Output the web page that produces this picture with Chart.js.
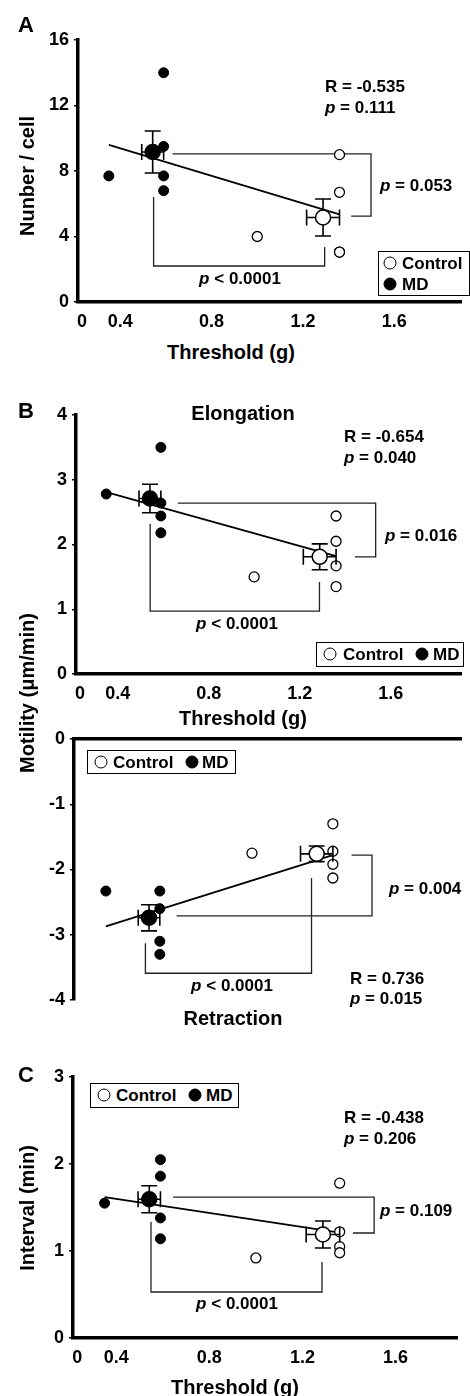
<!DOCTYPE html>
<html>
<head>
<meta charset="utf-8">
<script src="https://cdn.jsdelivr.net/npm/chart.js@4.4.1/dist/chart.umd.min.js"></script>
<style>
body { margin: 0; background: #fff; }
#wrap { position: relative; width: 470px; height: 1396px; overflow: hidden;
  font-family: "Liberation Sans", Arial, sans-serif; font-weight: bold; color: #000; }
canvas { position: absolute; left: 0; }
.t { position: absolute; white-space: nowrap; line-height: 1; font-size: 17px; transform: translateY(-50%); }
.c { transform: translate(-50%, -50%); }
.big { font-size: 20px; }
.v { font-size: 20px; transform: translate(-50%, -50%) rotate(-90deg); }
.let { font-size: 22px; }
.lg { position: absolute; border: 1.5px solid #000; box-sizing: border-box; background: #fff; }
.dot { position: absolute; width: 13px; height: 13px; border-radius: 50%; border: 1.5px solid #000;
  box-sizing: border-box; transform: translate(-50%, -50%); background: #fff; }
.dot.f { background: #000; }
</style>
</head>
<body>
<div id="wrap">
<canvas id="cA" width="470" height="340" style="top:0px"></canvas>
<canvas id="cB1" width="470" height="320" style="top:390px"></canvas>
<canvas id="cB2" width="470" height="300" style="top:720px"></canvas>
<canvas id="cC" width="470" height="346" style="top:1050px"></canvas>

<!-- panel A -->
<div class="t let" style="left:18px;top:25px">A</div>
<div class="t v" style="left:27px;top:176px">Nunber / cell</div>
<div class="t" style="left:325px;top:86px">R = -0.535</div>
<div class="t" style="left:325px;top:107px"><i>p</i> = 0.111</div>
<div class="t" style="left:380px;top:185px"><i>p</i> = 0.053</div>
<div class="t c" style="left:240px;top:278px"><i>p</i> &lt; 0.0001</div>
<div class="lg" style="left:378px;top:251px;width:92px;height:45px"></div>
<div class="dot" style="left:390px;top:263px"></div>
<div class="t" style="left:402px;top:263px">Control</div>
<div class="dot f" style="left:390px;top:284px"></div>
<div class="t" style="left:402px;top:284px">MD</div>
<div class="t c big" style="left:231px;top:352px">Threshold (g)</div>

<!-- panel B elongation -->
<div class="t let" style="left:18px;top:411px">B</div>
<div class="t c big" style="left:243px;top:413px">Elongation</div>
<div class="t" style="left:344px;top:436px">R = -0.654</div>
<div class="t" style="left:344px;top:457px"><i>p</i> = 0.040</div>
<div class="t" style="left:385px;top:535px"><i>p</i> = 0.016</div>
<div class="t c" style="left:237px;top:623px"><i>p</i> &lt; 0.0001</div>
<div class="lg" style="left:316px;top:642px;width:148px;height:25px"></div>
<div class="dot" style="left:330px;top:654px"></div>
<div class="t" style="left:343px;top:654px">Control</div>
<div class="dot f" style="left:422px;top:654px"></div>
<div class="t" style="left:433px;top:654px">MD</div>
<div class="t c big" style="left:243px;top:718px">Threshold (g)</div>
<div class="t v" style="left:27px;top:693px">Motility (μm/min)</div>

<!-- panel B retraction -->
<div class="lg" style="left:87px;top:750px;width:149px;height:24px"></div>
<div class="dot" style="left:101px;top:762px"></div>
<div class="t" style="left:113px;top:762px">Control</div>
<div class="dot f" style="left:192px;top:762px"></div>
<div class="t" style="left:202px;top:762px">MD</div>
<div class="t" style="left:389px;top:888px"><i>p</i> = 0.004</div>
<div class="t c" style="left:232px;top:985px"><i>p</i> &lt; 0.0001</div>
<div class="t" style="left:350px;top:978px">R = 0.736</div>
<div class="t" style="left:350px;top:998px"><i>p</i> = 0.015</div>
<div class="t c big" style="left:233px;top:1018px">Retraction</div>

<!-- panel C -->
<div class="t let" style="left:18px;top:1075px">C</div>
<div class="lg" style="left:90px;top:1083px;width:149px;height:25px"></div>
<div class="dot" style="left:104px;top:1095px"></div>
<div class="t" style="left:116px;top:1095px">Control</div>
<div class="dot f" style="left:195px;top:1095px"></div>
<div class="t" style="left:206px;top:1095px">MD</div>
<div class="t" style="left:344px;top:1117px">R = -0.438</div>
<div class="t" style="left:344px;top:1138px"><i>p</i> = 0.206</div>
<div class="t" style="left:380px;top:1210px"><i>p</i> = 0.109</div>
<div class="t c" style="left:237px;top:1303px"><i>p</i> &lt; 0.0001</div>
<div class="t v" style="left:27px;top:1208px">Interval (min)</div>
<div class="t c big" style="left:235px;top:1387px">Threshold (g)</div>
</div>

<script>
const FONT = '"Liberation Sans", Arial, sans-serif'

// x values (threshold, g) - same cells in every panel
const xControl = [1.0, 1.36, 1.36, 1.36, 1.36]
const xMD = [0.35, 0.59, 0.59, 0.59, 0.59]
const meanX = [1.288, 0.542] // control, MD
const semX = [0.072, 0.048]
const fitX = [0.35, 1.36]

const xTickVals = [0.4, 0.8, 1.2, 1.6]
const xTickLabels = ['0', '0.4', '0.8', '1.2', '1.6']

// A: number / cell
const aControl = [4.0, 9.0, 6.7, 3.05, 3.05]
const aMD = [7.7, 14.0, 9.5, 7.7, 6.8]
const aMean = [5.16, 9.16]
const aSem = [1.13, 1.28]
const aFit = [9.6, 5.35]

// B: elongation
const bControl = [1.5, 2.44, 2.05, 1.67, 1.35]
const bMD = [2.78, 3.5, 2.64, 2.44, 2.18]
const bMean = [1.81, 2.71]
const bSem = [0.2, 0.22]
const bFit = [2.81, 1.82]

// B: retraction
const rControl = [-1.75, -1.3, -1.72, -1.92, -2.13]
const rMD = [-2.33, -2.33, -2.6, -3.1, -3.3]
const rMean = [-1.76, -2.74]
const rSem = [0.12, 0.2]
const rFit = [-2.87, -1.78]

// C: interval
const cControl = [0.92, 1.78, 1.22, 1.05, 0.98]
const cMD = [1.55, 2.05, 1.86, 1.38, 1.14]
const cMean = [1.19, 1.595]
const cSem = [0.155, 0.155]
const cFit = [1.62, 1.21]

function pts(xs, ys) {
	return xs.map((x, i) => ({ x: x, y: ys[i] }))
}

function drawPath(ctx, xs, ys, path) {
	ctx.beginPath()
	path.forEach((p, i) => {
		const px = xs.getPixelForValue(p[0])
		const py = ys.getPixelForValue(p[1])
		if (i === 0) ctx.moveTo(px, py)
		else ctx.lineTo(px, py)
	})
	ctx.stroke()
}

function drawErrors(ctx, xs, ys, mean, sem) {
	const cap = 8
	ctx.save()
	ctx.strokeStyle = '#000'
	ctx.lineWidth = 1.6
	for (let i = 0; i < 2; i++) {
		const cx = xs.getPixelForValue(meanX[i])
		const cy = ys.getPixelForValue(mean[i])
		const x1 = xs.getPixelForValue(meanX[i] - semX[i])
		const x2 = xs.getPixelForValue(meanX[i] + semX[i])
		const y1 = ys.getPixelForValue(mean[i] + sem[i])
		const y2 = ys.getPixelForValue(mean[i] - sem[i])
		ctx.beginPath()
		ctx.moveTo(x1, cy); ctx.lineTo(x2, cy)
		ctx.moveTo(cx, y1); ctx.lineTo(cx, y2)
		ctx.moveTo(cx - cap, y1); ctx.lineTo(cx + cap, y1)
		ctx.moveTo(cx - cap, y2); ctx.lineTo(cx + cap, y2)
		ctx.moveTo(x1, cy - cap); ctx.lineTo(x1, cy + cap)
		ctx.moveTo(x2, cy - cap); ctx.lineTo(x2, cy + cap)
		ctx.stroke()
	}
	ctx.restore()
}

function makePanel(id, d, lay) {
	const extras = {
		id: 'extras',
		beforeDatasetsDraw(chart) {
			const ctx = chart.ctx
			ctx.save()
			ctx.strokeStyle = '#222'
			ctx.lineWidth = 1.3
			d.brackets.forEach(b => drawPath(ctx, chart.scales.x, chart.scales.y, b))
			ctx.restore()
		},
		beforeDatasetDraw(chart, args) {
			if (args.index === 1) drawErrors(chart.ctx, chart.scales.x, chart.scales.y, d.mean, d.sem)
		}
	}
	const tickFont = { family: FONT, size: 18, weight: 'bold' }
	// the "0" label sits just right of the broken axis origin
	const zeroAt = lay.xMin + 0.018
	return new Chart(document.getElementById(id), {
		type: 'scatter',
		data: {
			datasets: [
				{ data: pts([meanX[1]], [d.mean[1]]), pointRadius: 7.5, backgroundColor: '#000', borderColor: '#000', borderWidth: 1.5 },
				{ data: pts([meanX[0]], [d.mean[0]]), pointRadius: 7.5, backgroundColor: '#fff', borderColor: '#000', borderWidth: 1.5 },
				{ data: pts(xMD, d.md), pointRadius: 5, backgroundColor: '#000', borderColor: '#000', borderWidth: 1 },
				{ data: pts(xControl, d.control), pointRadius: 5, backgroundColor: '#fff', borderColor: '#000', borderWidth: 1.3 },
				{ data: pts(fitX, d.fit), showLine: true, pointRadius: 0, borderColor: '#000', borderWidth: 1.8, fill: false }
			]
		},
		options: {
			responsive: false,
			animation: false,
			events: [],
			layout: { padding: { left: 0, right: lay.padR, top: lay.padT, bottom: lay.padB } },
			plugins: { legend: { display: false }, tooltip: { enabled: false } },
			scales: {
				x: {
					type: 'linear',
					position: lay.xPos,
					min: lay.xMin,
					max: lay.xMax,
					afterFit(s) { s.height = lay.xH },
					afterBuildTicks(s) { s.ticks = [zeroAt].concat(xTickVals).map(v => ({ value: v })) },
					ticks: {
						display: lay.xLabels, autoSkip: false, maxRotation: 0, padding: 9,
						color: '#000', font: tickFont,
						callback: (v, i) => xTickLabels[i]
					},
					grid: { drawOnChartArea: false, drawTicks: false },
					border: { color: '#000', width: 3.5 }
				},
				y: {
					min: lay.yMin,
					max: lay.yMax,
					afterFit(s) { s.width = lay.yW },
					ticks: { stepSize: lay.step, padding: 5, color: '#000', font: tickFont },
					grid: { drawOnChartArea: false, drawTicks: true, tickLength: 4, color: '#000', lineWidth: 1.5 },
					border: { color: '#000', width: 3.5 }
				}
			}
		},
		plugins: [extras]
	})
}

makePanel('cA', {
	control: aControl, md: aMD, mean: aMean, sem: aSem, fit: aFit,
	brackets: [
		[[0.629, 9.04], [1.498, 9.04], [1.498, 5.25], [1.411, 5.25]],
		[[0.546, 6.41], [0.546, 2.2], [1.295, 2.2], [1.295, 3.36]]
	]
}, { padR: 7, padT: 40, padB: 0, xH: 38, yW: 78, xMin: 0.215, xMax: 1.892, yMin: 0, yMax: 16, step: 4, xPos: 'bottom', xLabels: true })

makePanel('cB1', {
	control: bControl, md: bMD, mean: bMean, sem: bSem, fit: bFit,
	brackets: [
		[[0.665, 2.64], [1.534, 2.64], [1.534, 1.81], [1.443, 1.81]],
		[[0.543, 2.32], [0.543, 0.97], [1.287, 0.97], [1.287, 1.42]]
	]
}, { padR: 5, padT: 25, padB: 0, xH: 36, yW: 76, xMin: 0.217, xMax: 1.909, yMin: 0, yMax: 4, step: 1, xPos: 'bottom', xLabels: true })

makePanel('cB2', {
	control: rControl, md: rMD, mean: rMean, sem: rSem, fit: rFit,
	brackets: [
		[[0.665, -2.71], [1.534, -2.71], [1.534, -1.78], [1.443, -1.78]],
		[[0.526, -3.13], [0.526, -3.59], [1.265, -3.59], [1.265, -2.13]]
	]
}, { padR: 0, padT: 9, padB: 20, xH: 10, yW: 74, xMin: 0.2083, xMax: 1.93, yMin: -4, yMax: 0, step: 1, xPos: 'top', xLabels: false })

makePanel('cC', {
	control: cControl, md: cMD, mean: cMean, sem: cSem, fit: cFit,
	brackets: [
		[[0.644, 1.62], [1.508, 1.62], [1.508, 1.207], [1.417, 1.207]],
		[[0.5495, 1.333], [0.5495, 0.529], [1.284, 0.529], [1.284, 0.874]]
	]
}, { padR: 13, padT: 27, padB: 0, xH: 58, yW: 73, xMin: 0.2144, xMax: 1.864, yMin: 0, yMax: 3, step: 1, xPos: 'bottom', xLabels: true })
</script>
</body>
</html>
